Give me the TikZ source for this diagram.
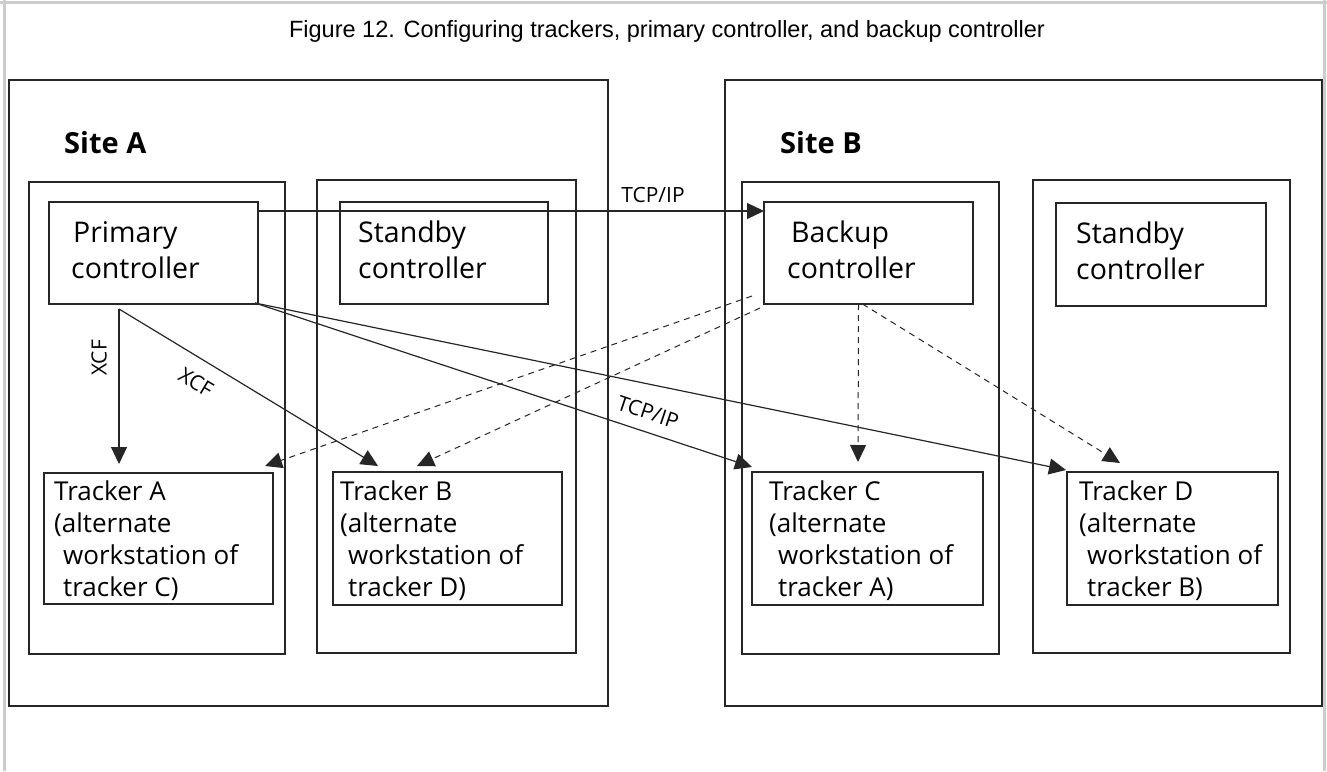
\documentclass[tikz,border=0pt]{standalone}
\usepackage{fontspec}
\setmainfont{Open Sans}
\newfontfamily\titlefont{Liberation Sans}
\usetikzlibrary{arrows.meta,calc}
\begin{document}
\begin{tikzpicture}[x=1pt,y=-1pt,
  frame/.style={draw=black!85, line width=1.3pt, inner sep=0pt, outer sep=0pt, anchor=north west},
  conn/.style={draw=black!85, line width=1.2pt, -{Triangle[length=17pt,width=16pt]}},
  dconn/.style={conn, line width=1pt, dash pattern=on 6pt off 5pt},
  ctext/.style={inner sep=0pt, anchor=north west, align=left, font=\fontsize{28.5}{36}\selectfont},
  ttext/.style={inner sep=0pt, anchor=north west, align=left, font=\fontsize{26}{32}\selectfont},
  sitetext/.style={inner sep=0pt, anchor=base west, font=\fontsize{29}{34}\selectfont\bfseries},
  lbl/.style={inner sep=0pt, font=\fontsize{21}{25}\selectfont}]
\useasboundingbox (0,0) rectangle (1327,771);
\fill[white] (0,0) rectangle (1327,771);
% page frame
\draw[gray!40, line width=3pt] (0,2) -- (1327,2);
\draw[gray!40, line width=3pt] (4,0) -- (4,771);
\draw[gray!40, line width=3pt] (1324.5,0) -- (1324.5,771);
% title
\node[inner sep=0pt, anchor=base, font=\titlefont\fontsize{23.5}{28}\selectfont] (title) at (667,37)
  {Figure 12. Configuring trackers, primary controller, and backup controller};
% sites
\node[frame, minimum width=599pt, minimum height=626pt] (siteA) at (9,80) {};
\node[frame, minimum width=597pt, minimum height=626pt] (siteB) at (725,80) {};
\node[sitetext] (siteAt) at (64,153) {Site A};
\node[sitetext] (siteBt) at (780,153) {Site B};
% columns
\node[frame, minimum width=256pt, minimum height=472pt] (colA1) at (29,182) {};
\node[frame, minimum width=259pt, minimum height=473pt] (colA2) at (317,180) {};
\node[frame, minimum width=257pt, minimum height=472pt] (colB1) at (742,182) {};
\node[frame, minimum width=257pt, minimum height=473pt] (colB2) at (1033,180) {};
% controllers
\node[frame, minimum width=209pt, minimum height=102pt] (prim) at (49,202) {};
\node[frame, minimum width=208pt, minimum height=102pt] (stbA) at (340,202) {};
\node[frame, minimum width=209pt, minimum height=102pt] (bkp) at (764,202) {};
\node[frame, minimum width=210pt, minimum height=103pt] (stbB) at (1056,203) {};
\node[ctext] (primt) at (71,216.8) {\strut\hspace*{2pt}Primary\\controller};
\node[ctext] (stbAt) at (358,216.8) {\strut Standby\\controller};
\node[ctext] (bkpt) at (787,216.8) {\strut\hspace*{4pt}Backup\\controller};
\node[ctext] (stbBt) at (1076,217.8) {\strut Standby\\controller};
% trackers
\node[frame, minimum width=229pt, minimum height=131pt] (trkA) at (44,473) {};
\node[frame, minimum width=229pt, minimum height=133pt] (trkB) at (333,472) {};
\node[frame, minimum width=231pt, minimum height=133pt] (trkC) at (752,472) {};
\node[frame, minimum width=211pt, minimum height=133pt] (trkD) at (1067,472) {};
\node[ttext] (trkAt) at (54,477.6) {\strut Tracker A\\(alternate\\\hspace*{9pt}workstation of\\\hspace*{9pt}tracker C)};
\node[ttext] (trkBt) at (340,477.6) {\strut Tracker B\\(alternate\\\hspace*{8pt}workstation of\\\hspace*{8pt}tracker D)};
\node[ttext] (trkCt) at (769,477.6) {\strut Tracker C\\(alternate\\\hspace*{9pt}workstation of\\\hspace*{9pt}tracker A)};
\node[ttext] (trkDt) at (1079,477.6) {\strut Tracker D\\(alternate\\\hspace*{8pt}workstation of\\\hspace*{8pt}tracker B)};
% connectors
\coordinate (xs) at ($(prim.south west)+(70,5)$);
\coordinate (ts) at ($(prim.south east)+(-3,-1)$);
\draw[conn] ($(prim.north east)+(0,9)$) -- ($(bkp.north west)+(0,9)$);
\draw[conn] (xs) -- ($(trkA.north west)+(75,-9)$);
\draw[conn] (xs) -- ($(trkB.north west)+(45,-6)$);
\draw[conn] (ts) -- ($(trkC.north west)+(0,-5)$);
\draw[conn] (ts) -- ($(trkD.north west)+(-1,-2)$);
\draw[dconn] ($(bkp.south west)+(-12,-8)$) -- ($(trkA.north east)+(-8,-7)$);
\draw[dconn] ($(bkp.south west)+(-4,4)$) -- ($(trkB.north west)+(84,-6)$);
\draw[dconn] ($(bkp.south)+(-10,0)$) -- ($(trkC.north west)+(106,-10)$);
\draw[dconn] ($(bkp.south)+(-6,0)$) -- ($(trkD.north west)+(53,-9)$);
% labels
\node[lbl, anchor=base] (tcp1) at (653,202) {TCP/IP};
\node[lbl, rotate=90] (xcf1) at (99,358) {XCF};
\node[lbl, rotate=-31] (xcf2) at (196,382) {XCF};
\node[lbl, rotate=-18.5] (tcp2) at (648,412) {TCP/IP};
\end{tikzpicture}
\end{document}
